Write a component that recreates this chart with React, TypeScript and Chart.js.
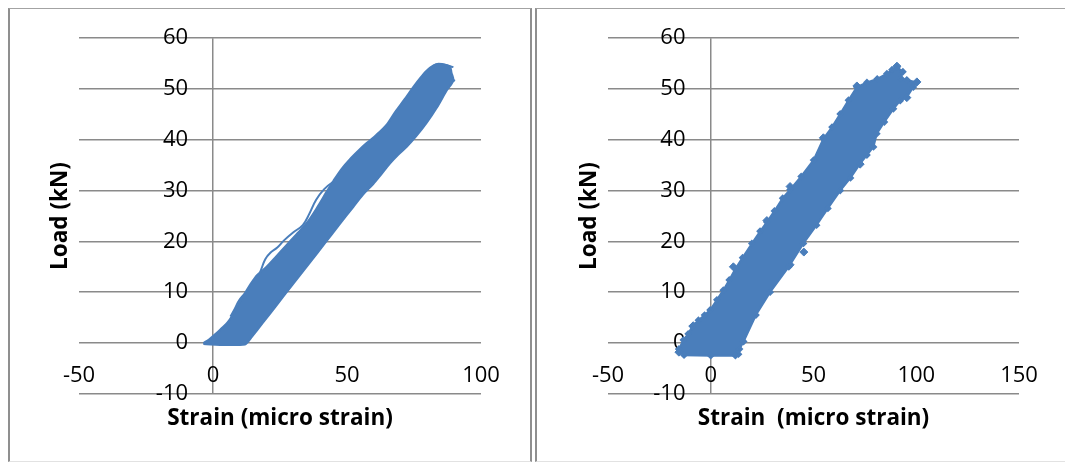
import React, { useEffect, useRef } from "react";
import { Chart, registerables } from "chart.js";

Chart.register(...registerables);

const BLUE = "#4A7EBB";
const GRID = "#8a8a8a";
const FONT = "'Open Sans', 'DejaVu Sans', sans-serif";

// ---------- shared axis values ----------
const loadTicks = [-10, 0, 10, 20, 30, 40, 50, 60];
const leftStrainTicks = [-50, 0, 50, 100];
const rightStrainTicks = [-50, 0, 50, 100, 150];
const yTitle = "Load (kN)";
const leftXTitle = "Strain (micro strain)";
const rightXTitle = "Strain  (micro strain)";

// ---------- left chart: outline of the loading / unloading band ----------
const leftUpStrain = [-3.6, -1.5, 1.0, 3.0, 5.5, 7.6, 9.5, 11.9, 14.0, 16.5, 20.0, 23.5, 27.5, 31.5, 35.5, 39.0, 42.4, 45.0, 48.0, 51.1, 54.5, 57.4, 61.0, 64.8, 68.0, 71.5, 74.7, 77.5, 79.7, 82.2, 85.0, 88.4];
const leftUpLoad = [0.0, 0.7, 1.8, 2.8, 4.1, 5.8, 7.6, 9.8, 11.6, 13.4, 15.0, 17.0, 19.3, 21.6, 24.0, 26.8, 29.8, 32.0, 34.3, 36.2, 38.0, 39.4, 41.0, 43.0, 45.5, 48.0, 50.4, 52.3, 53.6, 54.6, 54.8, 54.4];
const leftDownStrain = [89.0, 89.7, 87.2, 83.5, 79.7, 76.0, 72.3, 69.0, 66.0, 62.8, 59.8, 56.0, 52.4, 47.0, 42.0, 36.0, 30.0, 24.0, 18.5, 14.5, 13.0, 12.0, 5.0, -3.6];
const leftDownLoad = [53.2, 51.7, 49.7, 46.3, 43.3, 40.8, 38.6, 37.0, 35.3, 33.2, 31.3, 29.2, 26.8, 23.2, 19.8, 15.7, 11.7, 7.6, 3.9, 1.2, 0.2, -0.3, -0.4, -0.2];

// outer loading cycle that runs just outside the band
const leftLoopStrain = [6.5, 8.0, 10.0, 13.0, 16.0, 18.0, 19.5, 21.5, 24.0, 26.5, 30.0, 33.5, 36.0, 38.5, 41.5, 45.0, 48.5, 51.5];
const leftLoopLoad = [5.2, 6.6, 8.6, 10.3, 12.0, 14.5, 16.5, 17.8, 18.8, 20.2, 21.8, 23.2, 25.5, 28.2, 30.3, 31.8, 32.8, 34.5];
// curls at the peak load
const leftPeakAStrain = [80.2, 81.5, 83.2, 85.5, 89.7];
const leftPeakALoad = [52.6, 54.2, 54.9, 54.9, 54.3];
const leftPeakBStrain = [84.5, 86.0, 88.5, 90.3];
const leftPeakBLoad = [52.4, 53.2, 52.1, 51.6];

// ---------- right chart: outline of the point cloud ----------
const rightEdgeStrain = [-15.5, -13.3, -11.0, -9.0, -6.0, -3.0, -0.3, 3.0, 6.1, 9.0, 12.0, 15.5, 20.0, 24.0, 27.3, 31.0, 35.0, 38.6, 44.0, 50.0, 54.8, 59.0, 63.0, 67.0, 71.1, 76.0, 81.0, 85.7, 88.2, 90.6, 93.5, 92.5, 95.4, 100.3, 98.6, 95.4, 92.2, 88.9, 84.5, 80.8, 79.2, 76.0, 72.7, 68.0, 63.0, 57.0, 51.5, 45.1, 38.0, 28.9, 22.0, 16.0, 14.0, 13.5, 12.0, 0.0, -13.0, -15.5];
const rightEdgeLoad = [-1.2, 0.6, 1.8, 3.3, 4.5, 5.5, 6.5, 8.5, 10.4, 12.4, 14.6, 16.8, 19.6, 22.0, 23.8, 26.0, 28.5, 30.2, 32.8, 36.0, 40.2, 42.5, 45.1, 47.8, 50.4, 51.3, 52.0, 53.0, 53.8, 54.3, 53.4, 52.1, 51.8, 51.3, 50.4, 48.4, 47.7, 46.1, 43.5, 41.2, 38.6, 37.0, 35.3, 32.5, 30.0, 26.5, 23.2, 19.6, 15.0, 10.0, 5.5, 0.3, -1.2, -2.2, -2.5, -2.5, -2.4, -1.2];
// isolated readings sticking out of the cloud
const rightOutStrain = [-8.5, -15.5, 11.0, 27.3, 45.3, 38.6, 38.6, 54.8, 71.1, 90.6, 100.3, 95.4, 72.7];
const rightOutLoad = [3.4, -1.8, 15.0, 24.1, 17.9, 15.4, 30.8, 40.4, 50.6, 54.5, 51.4, 48.3, 35.2];

const pts = (xs: number[], ys: number[]) => xs.map((x, i) => ({ x, y: ys[i] }));

function buildOptions(xTicks: number[], yLabelAt: number, rightPad: number, xTitle: string) {
  const tickFont = { family: FONT, size: 22 };
  const titleFont = { family: FONT, size: 22.5, weight: "bold" as const };
  return {
    responsive: false,
    animation: false as const,
    devicePixelRatio: 1,
    events: [] as any[],
    layout: { padding: { left: 37.5, right: rightPad, top: 29.2, bottom: 29 } },
    plugins: {
      legend: { display: false },
      tooltip: { enabled: false },
      title: {
        display: true,
        text: xTitle,
        position: "bottom" as const,
        fullSize: false,
        color: "#000",
        font: titleFont,
        padding: { top: 11.2, bottom: 0 },
      },
      subtitle: {
        display: true,
        text: yTitle,
        position: "left" as const,
        fullSize: false,
        color: "#000",
        font: titleFont,
        padding: { top: 0, bottom: 4.5 },
      },
    },
    scales: {
      x: {
        type: "linear" as const,
        position: { y: 0 },
        min: xTicks[0],
        max: xTicks[xTicks.length - 1],
        afterBuildTicks: (s: any) => {
          s.ticks = xTicks.map((v) => ({ value: v }));
        },
        grid: {
          drawTicks: false,
          lineWidth: 1.5,
          color: (c: any) => (c.tick && c.tick.value === 0 ? GRID : "rgba(0,0,0,0)"),
        },
        border: { display: false },
        ticks: { padding: 20, color: "#000", font: tickFont, maxRotation: 0, autoSkip: false },
      },
      y: {
        type: "linear" as const,
        position: { x: yLabelAt },
        min: loadTicks[0],
        max: loadTicks[loadTicks.length - 1],
        afterBuildTicks: (s: any) => {
          s.ticks = loadTicks.map((v) => ({ value: v }));
        },
        grid: { drawTicks: false, lineWidth: 1.5, color: GRID },
        border: { display: false },
        ticks: { padding: 0, color: "#000", font: tickFont, autoSkip: false },
      },
    },
  };
}

function LeftChart() {
  const ref = useRef<HTMLCanvasElement>(null);
  useEffect(() => {
    const line = (xs: number[], ys: number[]) => ({
      data: pts(xs, ys),
      showLine: true,
      borderColor: BLUE,
      borderWidth: 2,
      pointRadius: 0,
      fill: false,
      tension: 0.4,
    });
    const chart = new Chart(ref.current as HTMLCanvasElement, {
      type: "scatter",
      data: {
        datasets: [
          {
            data: pts(leftUpStrain.concat(leftDownStrain), leftUpLoad.concat(leftDownLoad)),
            showLine: true,
            borderColor: BLUE,
            backgroundColor: BLUE,
            borderWidth: 2,
            pointRadius: 0,
            fill: "shape",
            tension: 0.3,
          },
          line(leftLoopStrain, leftLoopLoad),
          line(leftPeakAStrain, leftPeakALoad),
          line(leftPeakBStrain, leftPeakBLoad),
        ],
      },
      options: buildOptions(leftStrainTicks, -9.3, 48, leftXTitle) as any,
    });
    return () => chart.destroy();
  }, []);
  return <canvas ref={ref} width={519} height={452} style={{ position: "absolute", left: 10, top: 9 }} />;
}

function RightChart() {
  const ref = useRef<HTMLCanvasElement>(null);
  useEffect(() => {
    const chart = new Chart(ref.current as HTMLCanvasElement, {
      type: "scatter",
      data: {
        datasets: [
          {
            data: pts(rightEdgeStrain, rightEdgeLoad),
            showLine: true,
            borderColor: BLUE,
            backgroundColor: BLUE,
            borderWidth: 2,
            pointRadius: 2.5,
            pointStyle: "rectRot",
            pointBackgroundColor: BLUE,
            pointBorderColor: BLUE,
            fill: "shape",
            tension: 0,
          },
          {
            data: pts(rightOutStrain, rightOutLoad),
            showLine: false,
            pointRadius: 4,
            pointStyle: "rectRot",
            pointBackgroundColor: BLUE,
            pointBorderColor: BLUE,
            borderWidth: 1,
          },
        ],
      },
      options: buildOptions(rightStrainTicks, -12.3, 46, rightXTitle) as any,
    });
    return () => chart.destroy();
  }, []);
  return <canvas ref={ref} width={526} height={452} style={{ position: "absolute", left: 539, top: 9 }} />;
}

export default function App() {
  const panel = (left: number, width: number): React.CSSProperties => ({
    position: "absolute",
    left,
    top: 8,
    width,
    height: 454,
    boxSizing: "border-box",
    borderLeft: "2px solid #8f8f8f",
    borderRight: "2px solid #8f8f8f",
    borderTop: "1px solid #a3a3a3",
    borderBottom: "1px solid #e2e2e2",
    background: "#fff",
  });
  return (
    <div style={{ position: "absolute", left: 0, top: 0, width: 1065, height: 463, overflow: "hidden", background: "#fff" }}>
      <div style={panel(8, 524)} />
      <div style={panel(535, 540)} />
      <LeftChart />
      <RightChart />
    </div>
  );
}
